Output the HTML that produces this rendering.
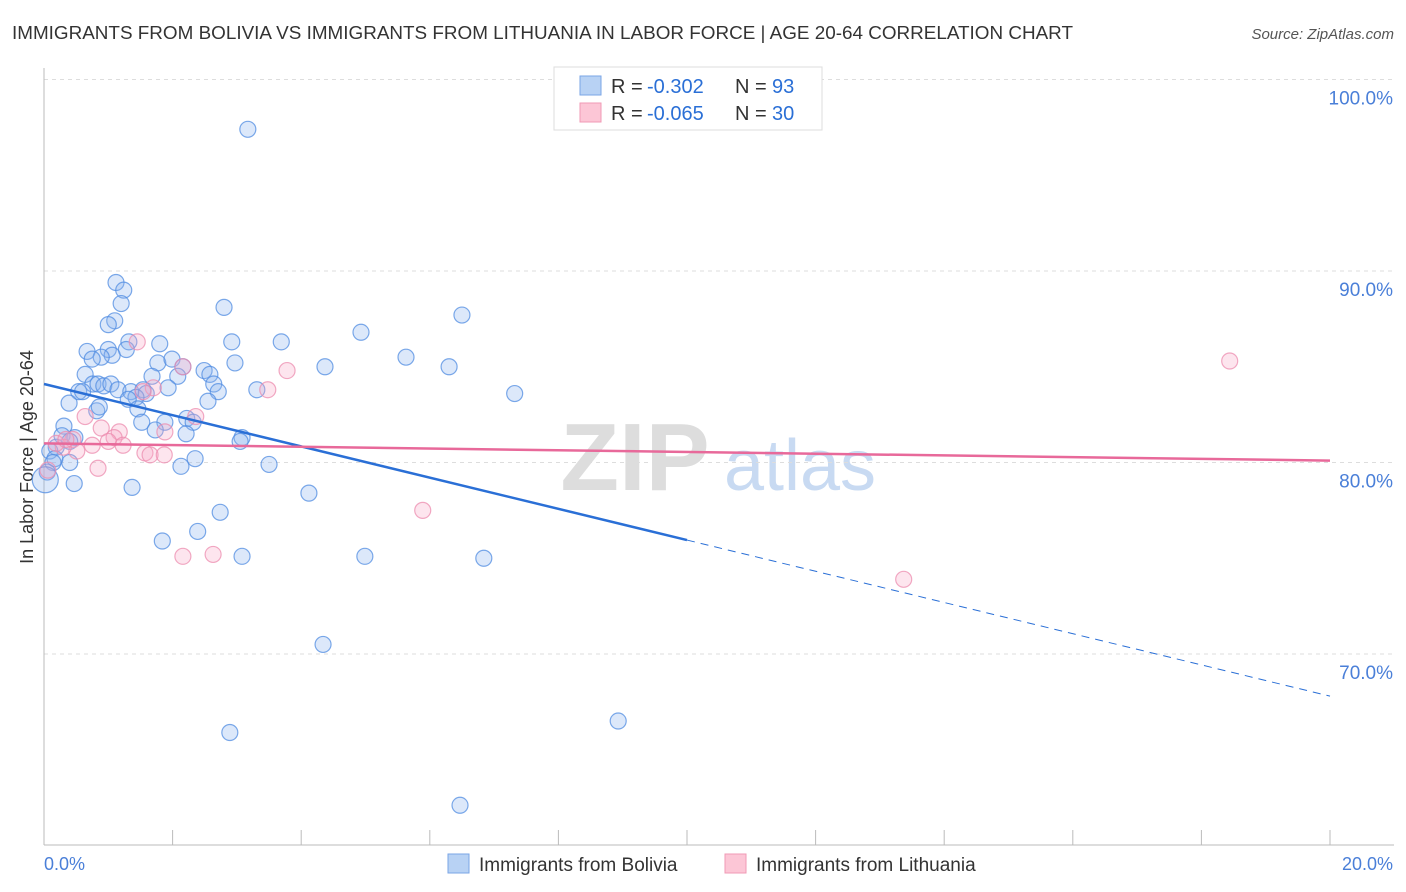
<!DOCTYPE html>
<html><head><meta charset="utf-8"><style>
body{margin:0;background:#fff;font-family:"Liberation Sans",sans-serif;overflow:hidden;}
svg text{font-family:"Liberation Sans",sans-serif;}
</style></head><body>
<svg id="chart" width="1406" height="892" xmlns="http://www.w3.org/2000/svg" style="display:block">
<text x="12" y="39" font-size="18" fill="#333" textLength="1061" lengthAdjust="spacingAndGlyphs">IMMIGRANTS FROM BOLIVIA VS IMMIGRANTS FROM LITHUANIA IN LABOR FORCE | AGE 20-64 CORRELATION CHART</text>
<text x="1394" y="39" font-size="15" fill="#555" text-anchor="end" font-style="italic">Source: ZipAtlas.com</text>
<text transform="translate(33,457) rotate(-90)" font-size="18" fill="#333" text-anchor="middle">In Labor Force | Age 20-64</text>
<g>
<text x="635" y="490" font-size="96" fill="#ddd" font-family="Liberation Serif" text-anchor="middle" font-weight="bold">ZIP</text>
<text x="800" y="490" font-size="72" fill="#c8daf2" text-anchor="middle">atlas</text>
</g>
<g id="grid"></g><g id="axes"></g><g id="pts"></g><g id="trends"></g>
<g>
<rect x="554" y="67" width="268" height="63" fill="#fff" stroke="#ddd"/>
<rect x="580" y="76" width="21" height="19" fill="#b8d2f4" stroke="#7aa5e6"/>
<rect x="580" y="103" width="21" height="19" fill="#fcc6d6" stroke="#f09ab5"/>
<text x="611" y="93" font-size="20" fill="#333">R =</text>
<text x="647" y="93" font-size="20" fill="#2a6fd6">-0.302</text>
<text x="735" y="93" font-size="20" fill="#333">N =</text>
<text x="772" y="93" font-size="20" fill="#2a6fd6">93</text>
<text x="611" y="120" font-size="20" fill="#333">R =</text>
<text x="647" y="120" font-size="20" fill="#2a6fd6">-0.065</text>
<text x="735" y="120" font-size="20" fill="#333">N =</text>
<text x="772" y="120" font-size="20" fill="#2a6fd6">30</text>
</g>
<g>
<rect x="448" y="854" width="21" height="19" fill="#b8d2f4" stroke="#7aa5e6"/>
<text x="479" y="871" font-size="19" fill="#333">Immigrants from Bolivia</text>
<rect x="725" y="854" width="21" height="19" fill="#fcc6d6" stroke="#f09ab5"/>
<text x="756" y="871" font-size="19" fill="#333">Immigrants from Lithuania</text>
</g>
</svg>
<script>
const yTicks=[70,80,90,100];
const yTickLabels=["70.0%","80.0%","90.0%","100.0%"];
const xTicks=[0,2,4,6,8,10,12,14,16,18,20];
const bolX=[3.17,1.12,1.24,1.20,2.80,6.50,1.10,1.0,4.93,2.92,3.69,1.80,1.32,1.0,0.67,1.28,1.06,0.89,0.75,5.63,1.77,1.99,2.97,6.30,4.37,2.16,0.64,1.68,2.49,2.58,2.08,0.76,0.84,0.93,1.04,2.64,1.15,1.35,1.54,1.59,1.93,0.54,0.6,3.31,2.71,7.32,1.43,1.31,2.55,0.39,1.46,0.82,0.86,2.22,2.32,1.88,1.52,0.31,1.73,2.21,0.28,0.48,3.08,3.05,0.40,0.19,0.09,2.35,0.17,0.14,0.40,2.13,3.50,0.05,0.47,1.37,4.12,2.74,2.39,1.84,3.08,4.99,6.84,4.34,8.93,2.89,6.47,0.02];
const bolY=[97.4,89.4,89.0,88.3,88.1,87.7,87.4,87.2,86.8,86.3,86.3,86.2,86.3,85.9,85.8,85.9,85.6,85.5,85.4,85.5,85.2,85.4,85.2,85.0,85.0,85.0,84.6,84.5,84.8,84.6,84.5,84.1,84.1,84.0,84.1,84.1,83.8,83.7,83.8,83.6,83.9,83.7,83.7,83.8,83.7,83.6,83.4,83.3,83.2,83.1,82.8,82.7,82.9,82.3,82.1,82.1,82.1,81.9,81.7,81.5,81.4,81.3,81.3,81.1,81.1,80.8,80.6,80.2,80.2,80.0,80.0,79.8,79.9,79.5,78.9,78.7,78.4,77.4,76.4,75.9,75.1,75.1,75.0,70.5,66.5,65.9,62.1,79.1];
const litX=[1.45,3.78,2.16,3.48,1.70,2.36,0.64,0.89,1.17,1.09,0.75,0.45,1.0,1.23,1.57,1.65,1.87,0.51,0.30,0.19,0.84,0.06,5.89,2.63,2.16,13.37,18.44,1.88,0.34,1.54];
const litY=[86.3,84.8,85.0,83.8,83.9,82.4,82.4,81.8,81.6,81.3,80.9,81.2,81.1,80.9,80.5,80.4,80.4,80.6,80.8,81.0,79.7,79.6,77.5,75.2,75.1,73.9,85.3,81.6,81.2,83.7];
const bolTrend=[84.1,-0.815];
const litTrend=[81.0,-0.045];
const X=v=>44+v*64.3, Y=v=>79.5+(100-v)*19.15;
const NS="http://www.w3.org/2000/svg";
function mk(p,t,a){const e=document.createElementNS(NS,t);for(const k in a)e.setAttribute(k,a[k]);document.getElementById(p).appendChild(e);return e;}
yTicks.forEach((t,i)=>{
 const g=mk('grid','line',{x1:44,x2:1394,y1:Y(t),y2:Y(t),stroke:'#ddd','stroke-dasharray':'4,4'});
 
 
 const l=mk('axes','text',{x:1393,y:Y(t)+25,'font-size':19,fill:'#4a7fd8','text-anchor':'end'});
 l.textContent=yTickLabels[i];
 
 
});
const ax=mk('axes','line',{x1:44,x2:1394,y1:845,y2:845,stroke:'#bbb'});


const ay=mk('axes','line',{x1:44,x2:44,y1:68,y2:845,stroke:'#bbb'});


xTicks.forEach(t=>{const k=mk('axes','line',{x1:X(t),x2:X(t),y1:830,y2:845,stroke:'#bbb'});
 
 });
const x0=mk('axes','text',{x:44,y:870,'font-size':18,fill:'#4a7fd8'});x0.textContent="0.0%";


const x1=mk('axes','text',{x:1393,y:870,'font-size':18,fill:'#4a7fd8','text-anchor':'end'});x1.textContent="20.0%";


bolX.forEach((v,i)=>{const c=mk('pts','circle',{cx:X(v),cy:Y(bolY[i]),r:i==bolX.length-1?13:8,fill:'rgba(140,180,240,0.3)',stroke:'rgba(80,140,225,0.75)','stroke-width':1.2});
 
 });
litX.forEach((v,i)=>{const c=mk('pts','circle',{cx:X(v),cy:Y(litY[i]),r:8,fill:'rgba(248,170,198,0.3)',stroke:'rgba(236,140,175,0.75)','stroke-width':1.2});
 
 });
const bt=v=>bolTrend[0]+bolTrend[1]*v, lt=v=>litTrend[0]+litTrend[1]*v;
const b1=mk('trends','line',{x1:X(0),y1:Y(bt(0)),x2:X(10),y2:Y(bt(10)),stroke:'#2a6fd6','stroke-width':2.5});


const b2=mk('trends','line',{x1:X(10),y1:Y(bt(10)),x2:X(20),y2:Y(bt(20)),stroke:'#2a6fd6','stroke-width':1,'stroke-dasharray':'8,6'});


const l1=mk('trends','line',{x1:X(0),y1:Y(lt(0)),x2:X(20),y2:Y(lt(20)),stroke:'#e8699a','stroke-width':2.5});


</script>
</body></html>
